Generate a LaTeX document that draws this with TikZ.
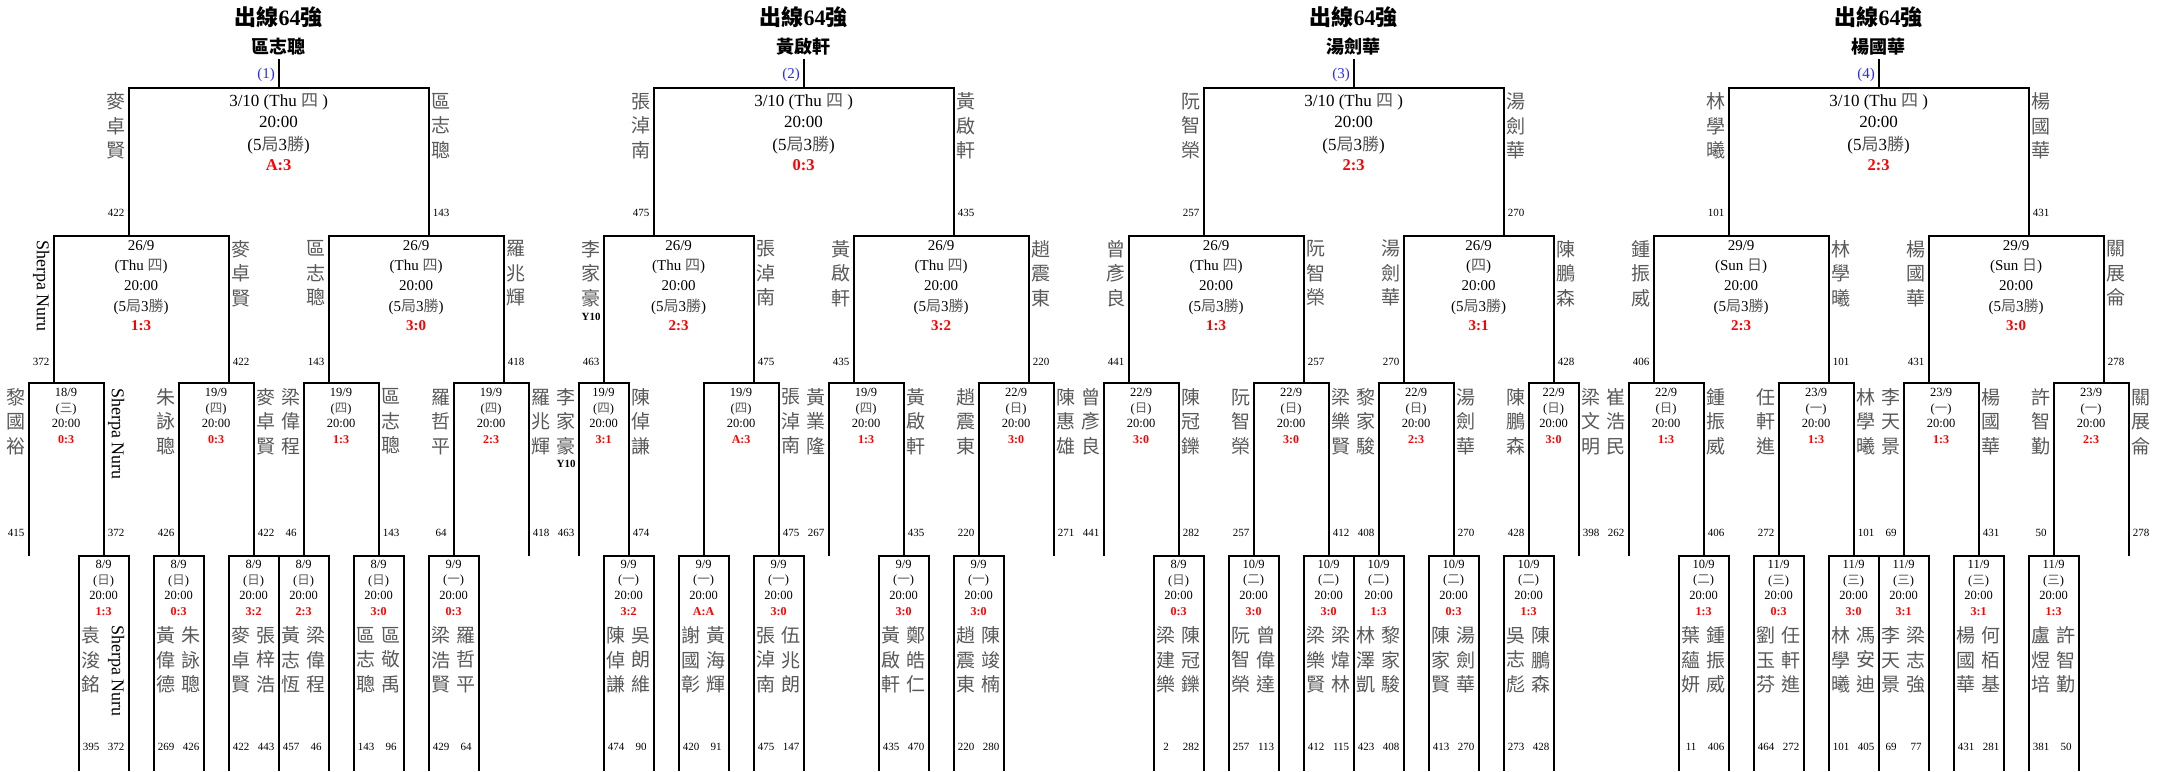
\documentclass[tikz,border=0pt]{standalone}
\usepackage{fontspec}
\setmainfont{Liberation Serif}
\newfontfamily\cjk{Noto Sans CJK TC}
\definecolor{roundblue}{RGB}{40,40,255}

\newcommand{\zhs}[1]{{\cjk\color{black!65}#1}}

% one character per line for the vertical names
\makeatletter
\def\colname#1{\colname@a#1\colname@end}
\def\colname@a#1#2{#1\ifx\colname@end#2\expandafter\@gobble\else\expandafter\colname@b\fi#2}
\def\colname@b{\\\colname@a}
\let\colname@end\relax
\makeatother

\newcommand{\namecol}[4]{\if\relax\detokenize{#4}\relax\else\node[vname] (#1) at (#2,#3) {\colname{#4}};\fi}
\newcommand{\seedat}[4]{\if\relax\detokenize{#4}\relax\else\node[seednum] (#1) at (#2,#3) {#4};\fi}

\newcommand{\champ}[3]{%
  \node[ttl] (title#2) at (#1,17) {{\cjk 出線}64{\cjk 強}};
  \node[champ] (champ#2) at (#1,47) {#3};
  \node[roundno] (no#2) at (#1-0.144,75) {(#2)};
  \draw[bline] (#1,59) -- (#1,88);
}
\newcommand{\finalm}[7]{%
  \draw[bline] (#1,236) -- (#1,88) -- (#2,88) -- (#2,236);
  \node[ftxt] (fdate#1) at ({(#1+#2)/2},102) {3/10 (Thu \zhs{四} )};
  \node[ftxt] (ftime#1) at ({(#1+#2)/2},122) {20:00};
  \node[ftxt] (fbest#1) at ({(#1+#2)/2},145) {(5\zhs{局}3\zhs{勝})};
  \node[fscore] (fscore#1) at ({(#1+#2)/2},165) {#3};
  \namecol{fl#1}{#1-0.5}{126}{#4}%
  \namecol{fr#1}{#2+0.5}{126}{#5}%
  \seedat{fls#1}{#1-0.5}{213}{#6}%
  \seedat{frs#1}{#2+0.5}{213}{#7}%
}
\newcommand{\semim}[9]{%
  \draw[bline] (#1,383) -- (#1,236) -- (#2,236) -- (#2,383);
  \node[stxt] (sdate#1) at ({(#1+#2)/2},246) {#3};
  \node[stxt] (sday#1) at ({(#1+#2)/2},266.7) {(#4)};
  \node[stxt] (stime#1) at ({(#1+#2)/2},286) {20:00};
  \node[stxt] (sbest#1) at ({(#1+#2)/2},306.7) {(5\zhs{局}3\zhs{勝})};
  \node[sscore] (sscore#1) at ({(#1+#2)/2},326) {#5};
  \namecol{sl#1}{#1-0.5}{273.3}{#6}%
  \namecol{sr#1}{#2+0.5}{273.3}{#7}%
  \seedat{sls#1}{#1-0.5}{361.7}{#8}%
  \seedat{srs#1}{#2+0.5}{361.7}{#9}%
}
\newcommand{\roundm}[9]{%
  \draw[bline] (#1,556) -- (#1,383) -- (#2,383) -- (#2,556);
  \node[rtxt] (rdate#1) at ({(#1+#2)/2},392) {#3};
  \node[rtxt] (rday#1) at ({(#1+#2)/2},409.3) {(\zhs{#4})};
  \node[rtxt] (rtime#1) at ({(#1+#2)/2},423.3) {20:00};
  \node[rscore] (rscore#1) at ({(#1+#2)/2},440) {#5};
  \namecol{rl#1}{#1-0.5}{421.7}{#6}%
  \namecol{rr#1}{#2+0.5}{421.7}{#7}%
  \seedat{rls#1}{#1-0.5}{533.3}{#8}%
  \seedat{rrs#1}{#2+0.5}{533.3}{#9}%
}
\newcommand{\firstm}[8]{%
  \draw[bline] (#1-1,771) -- (#1-1,556) -- (#1+1,556) -- (#1+1,771);
  \node[rtxt] (qdate#1) at (#1,564) {#2};
  \node[rtxt] (qday#1) at (#1,580.7) {(\zhs{#3})};
  \node[rtxt] (qtime#1) at (#1,595.7) {20:00};
  \node[rscore] (qscore#1) at (#1,611.7) {#4};
  \namecol{ql#1}{#1-0.5}{660}{#5}%
  \namecol{qr#1}{#1+0.5}{660}{#6}%
  \seedat{qls#1}{#1-0.5}{746.7}{#7}%
  \seedat{qrs#1}{#1+0.5}{746.7}{#8}%
}

\begin{document}
\begin{tikzpicture}[
    x=25pt, y=-1pt,
    bline/.style={line width=2pt},
    ttl/.style={font=\fontsize{22}{26}\selectfont\bfseries},
    champ/.style={font=\fontsize{18}{22}\selectfont\bfseries\cjk},
    roundno/.style={font=\fontsize{15}{18}\selectfont, text=roundblue, anchor=east, inner sep=0pt},
    ftxt/.style={font=\fontsize{17}{20}\selectfont, inner sep=0pt},
    fscore/.style={font=\fontsize{16.5}{20}\selectfont\bfseries, text=red, inner sep=0pt},
    stxt/.style={font=\fontsize{15}{18}\selectfont, inner sep=0pt},
    sscore/.style={font=\fontsize{15}{18}\selectfont\bfseries, text=red, inner sep=0pt},
    rtxt/.style={font=\fontsize{12.5}{15}\selectfont, inner sep=0pt},
    rscore/.style={font=\fontsize{12}{14}\selectfont\bfseries, text=red, inner sep=0pt},
    vname/.style={font=\fontsize{19}{24.5}\selectfont\cjk, text=black!65, align=center, inner sep=0pt},
    seednum/.style={font=\fontsize{11}{13}\selectfont, inner sep=0pt},
    ytag/.style={font=\fontsize{11}{13}\selectfont\bfseries, inner sep=0pt},
    latname/.style={font=\fontsize{18}{22}\selectfont, rotate=-90, anchor=west, inner sep=0pt}
    ]
    \useasboundingbox (-0.144,0) rectangle (86.256,771);

    % --- Llave 1 ---
    \champ{11}{1}{區志聰}
    \finalm{5}{17}{A:3}{麥卓賢}{區志聰}{422}{143}
    \semim{2}{9}{26/9}{Thu \zhs{四}}{1:3}{}{麥卓賢}{372}{422}
    \semim{13}{20}{26/9}{Thu \zhs{四}}{3:0}{區志聰}{羅兆輝}{143}{418}
    \roundm{1}{4}{18/9}{三}{0:3}{黎國裕}{}{415}{372}
    \roundm{7}{10}{19/9}{四}{0:3}{朱詠聰}{麥卓賢}{426}{422}
    \roundm{12}{15}{19/9}{四}{1:3}{梁偉程}{區志聰}{46}{143}
    \roundm{18}{21}{19/9}{四}{2:3}{羅哲平}{羅兆輝}{64}{418}
    \firstm{4}{8/9}{日}{1:3}{袁浚銘}{}{395}{372}
    \firstm{7}{8/9}{日}{0:3}{黃偉德}{朱詠聰}{269}{426}
    \firstm{10}{8/9}{日}{3:2}{麥卓賢}{張梓浩}{422}{443}
    \firstm{12}{8/9}{日}{2:3}{黃志恆}{梁偉程}{457}{46}
    \firstm{15}{8/9}{日}{3:0}{區志聰}{區敬禹}{143}{96}
    \firstm{18}{9/9}{一}{0:3}{梁浩賢}{羅哲平}{429}{64}
    \node[latname] (sherpaS) at (1.5,240) {Sherpa Nuru};
    \node[latname] (sherpaR) at (4.5,388) {Sherpa Nuru};
    \node[latname] (sherpaQ) at (4.5,625) {Sherpa Nuru};

    % --- Llave 2 ---
    \champ{32}{2}{黃啟軒}
    \finalm{26}{38}{0:3}{張淖南}{黃啟軒}{475}{435}
    \semim{24}{30}{26/9}{Thu \zhs{四}}{2:3}{李家豪}{張淖南}{463}{475}
    \semim{34}{41}{26/9}{Thu \zhs{四}}{3:2}{黃啟軒}{趙震東}{435}{220}
    \roundm{23}{25}{19/9}{四}{3:1}{李家豪}{陳倬謙}{463}{474}
    \roundm{28}{31}{19/9}{四}{A:3}{}{張淖南}{}{475}
    \roundm{33}{36}{19/9}{四}{1:3}{黃業隆}{黃啟軒}{267}{435}
    \roundm{39}{42}{22/9}{日}{3:0}{趙震東}{陳惠雄}{220}{271}
    \firstm{25}{9/9}{一}{3:2}{陳倬謙}{吳朗維}{474}{90}
    \firstm{28}{9/9}{一}{A:A}{謝國彰}{黃海輝}{420}{91}
    \firstm{31}{9/9}{一}{3:0}{張淖南}{伍兆朗}{475}{147}
    \firstm{36}{9/9}{一}{3:0}{黃啟軒}{鄭皓仁}{435}{470}
    \firstm{39}{9/9}{一}{3:0}{趙震東}{陳竣楠}{220}{280}
    \node[ytag] (y10S) at (23.5,317) {Y10};
    \node[ytag] (y10R) at (22.5,464) {Y10};

    % --- Llave 3 ---
    \champ{54}{3}{湯劍華}
    \finalm{48}{60}{2:3}{阮智榮}{湯劍華}{257}{270}
    \semim{45}{52}{26/9}{Thu \zhs{四}}{1:3}{曾彥良}{阮智榮}{441}{257}
    \semim{56}{62}{26/9}{\zhs{四}}{3:1}{湯劍華}{陳鵬森}{270}{428}
    \roundm{44}{47}{22/9}{日}{3:0}{曾彥良}{陳冠鑠}{441}{282}
    \roundm{50}{53}{22/9}{日}{3:0}{阮智榮}{梁樂賢}{257}{412}
    \roundm{55}{58}{22/9}{日}{2:3}{黎家駿}{湯劍華}{408}{270}
    \roundm{61}{63}{22/9}{日}{3:0}{陳鵬森}{梁文明}{428}{398}
    \firstm{47}{8/9}{日}{0:3}{梁建樂}{陳冠鑠}{2}{282}
    \firstm{50}{10/9}{二}{3:0}{阮智榮}{曾偉達}{257}{113}
    \firstm{53}{10/9}{二}{3:0}{梁樂賢}{梁煒林}{412}{115}
    \firstm{55}{10/9}{二}{1:3}{林澤凱}{黎家駿}{423}{408}
    \firstm{58}{10/9}{二}{0:3}{陳家賢}{湯劍華}{413}{270}
    \firstm{61}{10/9}{二}{1:3}{吳志彪}{陳鵬森}{273}{428}

    % --- Llave 4 ---
    \champ{75}{4}{楊國華}
    \finalm{69}{81}{2:3}{林學曦}{楊國華}{101}{431}
    \semim{66}{73}{29/9}{Sun \zhs{日}}{2:3}{鍾振威}{林學曦}{406}{101}
    \semim{77}{84}{29/9}{Sun \zhs{日}}{3:0}{楊國華}{關展侖}{431}{278}
    \roundm{65}{68}{22/9}{日}{1:3}{崔浩民}{鍾振威}{262}{406}
    \roundm{71}{74}{23/9}{一}{1:3}{任軒進}{林學曦}{272}{101}
    \roundm{76}{79}{23/9}{一}{1:3}{李天景}{楊國華}{69}{431}
    \roundm{82}{85}{23/9}{一}{2:3}{許智勤}{關展侖}{50}{278}
    \firstm{68}{10/9}{二}{1:3}{葉蘊妍}{鍾振威}{11}{406}
    \firstm{71}{11/9}{三}{0:3}{劉玉芬}{任軒進}{464}{272}
    \firstm{74}{11/9}{三}{3:0}{林學曦}{馮安迪}{101}{405}
    \firstm{76}{11/9}{三}{3:1}{李天景}{梁志強}{69}{77}
    \firstm{79}{11/9}{三}{3:1}{楊國華}{何栢基}{431}{281}
    \firstm{82}{11/9}{三}{1:3}{盧煜培}{許智勤}{381}{50}

\end{tikzpicture}
\end{document}
